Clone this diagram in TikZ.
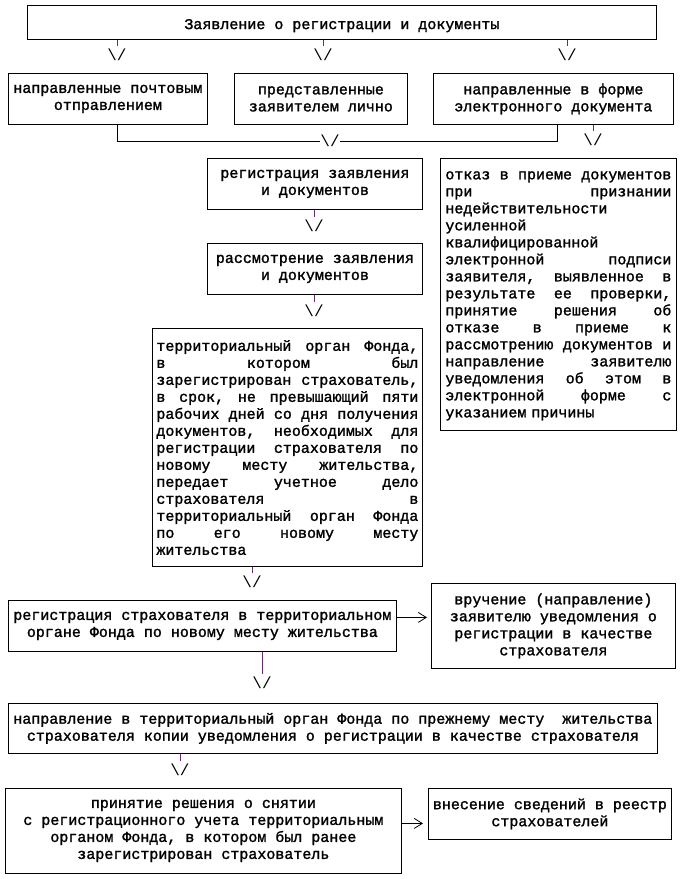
\documentclass[tikz,border=0pt]{standalone}
\usepackage{fontspec}
\newfontfamily\mono[FakeBold=1.5]{Liberation Mono}
\newfontfamily\monoglyph{Liberation Mono}
\usetikzlibrary{arrows.meta}
\definecolor{tickc}{RGB}{110,40,120}
\newcommand\jl[1]{\par\noindent\hbox to\hsize{#1}\par}
\begin{document}
\begin{tikzpicture}[x=1pt,y=-1pt,
  box/.style={draw,line width=0.8pt,inner sep=0pt,anchor=north west,align=center,
    font=\mono\fontsize{15}{17}\selectfont,execute at begin node={\rule{0pt}{16.5pt}}},
  jbox/.style={draw,line width=0.8pt,inner ysep=0pt,anchor=north west,
    font=\mono\fontsize{15}{17}\selectfont},
  vv/.style={font=\monoglyph\fontsize{16}{16}\selectfont,inner sep=0pt},
  tk/.style={draw=tickc,line width=0.8pt,shorten >=3pt},
  ln/.style={line width=0.8pt},
  ar/.style={line width=0.8pt,-{Straight Barb[length=8pt,width=10pt,line width=0.8pt]}}]

\fill[white] (0,0) rectangle (680,879);
\useasboundingbox (0,0) rectangle (680,879);

% boxes
\node[box,minimum width=629pt,minimum height=34pt] (top) at (27,5) {Заявление о регистрации и документы};
\node[box,minimum width=199pt,minimum height=51pt] (a) at (8,73) {направленные почтовым\\отправлением};
\node[box,minimum width=173pt,minimum height=51pt] (b) at (234,73) {представленные\\заявителем лично};
\node[box,minimum width=240pt,minimum height=51pt] (c) at (433,73) {направленные в форме\\электронного документа};
\node[box,minimum width=215pt,minimum height=51pt] (d) at (207,158) {регистрация заявления\\и документов};
\node[box,minimum width=215pt,minimum height=51pt] (e) at (207,243) {рассмотрение заявления\\и документов};
\node[jbox,text width=226pt,inner xsep=5pt,minimum height=272pt] (f) at (440,158) {%
\jl{отказ\hfill в\hfill приеме\hfill документов}
\jl{при\hfill признании}
\jl{недействительности\hfill}
\jl{усиленной\hfill}
\jl{квалифицированной\hfill}
\jl{электронной\hfill подписи}
\jl{заявителя,\hfill выявленное\hfill в}
\jl{результате\hfill ее\hfill проверки,}
\jl{принятие\hfill решения\hfill об}
\jl{отказе\hfill в\hfill приеме\hfill к}
\jl{рассмотрению\hfill документов\hfill и}
\jl{направление\hfill заявителю}
\jl{уведомления\hfill об\hfill этом\hfill в}
\jl{электронной\hfill форме\hfill с}
\jl{указанием причины\hfill}\kern6pt};
\node[jbox,text width=262pt,inner xsep=4pt,minimum height=238pt] (g) at (152,328) {%
\jl{территориальный\hfill орган\hfill Фонда,}
\jl{в\hfill котором\hfill был}
\jl{зарегистрирован\hfill страхователь,}
\jl{в\hfill срок,\hfill не\hfill превышающий\hfill пяти}
\jl{рабочих\hfill дней\hfill со\hfill дня\hfill получения}
\jl{документов,\hfill необходимых\hfill для}
\jl{регистрации\hfill страхователя\hfill по}
\jl{новому\hfill месту\hfill жительства,}
\jl{передает\hfill учетное\hfill дело}
\jl{страхователя\hfill в}
\jl{территориальный\hfill орган\hfill Фонда}
\jl{по\hfill его\hfill новому\hfill месту}
\jl{жительства\hfill}\kern6pt};
\node[box,minimum width=388pt,minimum height=51pt] (h) at (8,600) {регистрация страхователя в территориальном\\органе Фонда по новому месту жительства};
\node[box,minimum width=244pt,minimum height=85pt] (i) at (431,583) {вручение (направление)\\заявителю уведомления о\\регистрации в качестве\\страхователя};
\node[box,minimum width=649pt,minimum height=50pt] (j) at (8,703) {направление в территориальный орган Фонда по прежнему месту~ жительства\\страхователя копии уведомления о регистрации в качестве страхователя};
\node[box,minimum width=396pt,minimum height=85pt] (k) at (5,788) {принятие решения о снятии\\с регистрационного учета территориальным\\органом Фонда, в котором был ранее\\зарегистрирован страхователь};
\node[box,minimum width=243pt,minimum height=51pt] (l) at (428,788) {внесение сведений в реестр\\страхователей};

% arrow glyphs
\node[vv] (v1) at (117,55) {\textbackslash/};
\node[vv] (v2) at (323,55) {\textbackslash/};
\node[vv] (v3) at (567,55) {\textbackslash/};
\node[vv] (v4) at (330,141) {\textbackslash/};
\node[vv] (v5) at (593,140) {\textbackslash/};
\node[vv] (v6) at (314,226) {\textbackslash/};
\node[vv] (v7) at (314,311) {\textbackslash/};
\node[vv] (v8) at (252,582) {\textbackslash/};
\node[vv] (v9) at (262,683) {\textbackslash/};
\node[vv] (v10) at (180,770) {\textbackslash/};

% connectors
\draw[tk] (top.south -| v1) -- (v1.north);
\draw[tk] (top.south -| v2) -- (v2.north);
\draw[tk] (top.south -| v3) -- (v3.north);
\draw[ln] (a.south -| v1) |- (v4.west);
\draw[ln] (v4.east) -| ([xshift=4pt]c.south);
\draw[tk] (c.south -| v5) -- (v5.north);
\draw[tk] (d.south -| v6) -- (v6.north);
\draw[tk] (e.south -| v7) -- (v7.north);
\draw[tk] (g.south -| v8) -- (v8.north);
\draw[tk] (h.south -| v9) -- (v9.north);
\draw[tk] (j.south -| v10) -- (v10.north);
\draw[ar,shorten >=4pt] ([yshift=8.5pt]h.east) -- ([yshift=8.5pt]h.east -| i.west);
\draw[ar,shorten >=5pt] ([yshift=7.5pt]k.east) -- ([yshift=7.5pt]k.east -| l.west);
\end{tikzpicture}
\end{document}
